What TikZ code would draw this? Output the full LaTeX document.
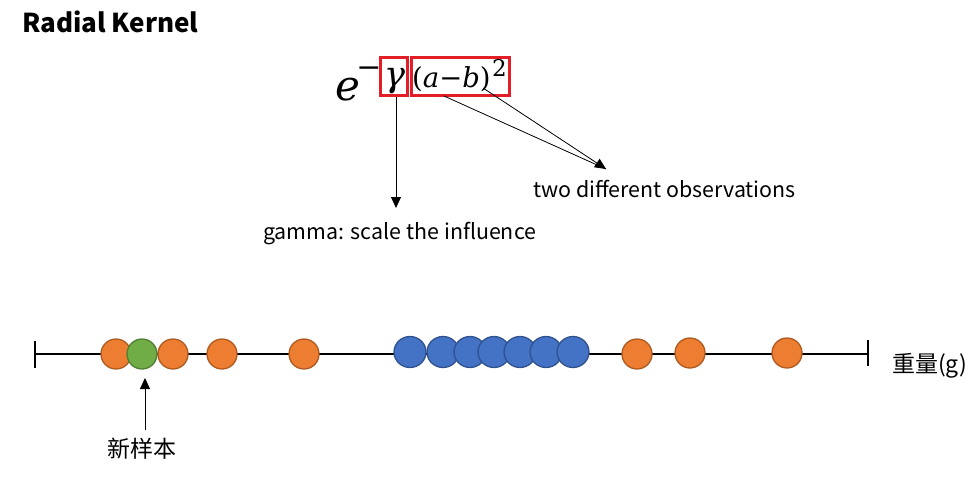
\documentclass[tikz,border=0pt]{standalone}
\usepackage{fontspec}
\setmainfont{Noto Sans CJK SC}
\newfontfamily\cjkfont{Noto Sans CJK SC}
\newfontfamily\formfont{DejaVu Serif}
\usetikzlibrary{arrows.meta,shapes.geometric}
\definecolor{orfill}{HTML}{ED7D31}
\definecolor{ordraw}{HTML}{AE5A21}
\definecolor{blfill}{HTML}{4472C4}
\definecolor{bldraw}{HTML}{2F528F}
\definecolor{grfill}{HTML}{70AD47}
\definecolor{grdraw}{HTML}{507E32}
\definecolor{boxred}{RGB}{228,30,38}
\begin{document}
\begin{tikzpicture}[x=1pt,y=-1pt,
  lbl/.style={inner sep=0pt,font=\fontsize{21.4}{25}\selectfont},
  cjk/.style={inner sep=0pt,font=\cjkfont\fontsize{23}{27}\selectfont},
  redbox/.style={draw=boxred,line width=2.9pt,inner sep=0pt,minimum height=38.5pt},
  orpt/.style={circle,fill=orfill,draw=ordraw,line width=1.3pt,minimum size=30pt,inner sep=0pt},
  blpt/.style={ellipse,fill=blfill,draw=bldraw,line width=1.3pt,minimum width=32pt,minimum height=31pt,inner sep=0pt},
  grpt/.style={circle,fill=grfill,draw=grdraw,line width=1.3pt,minimum size=30pt,inner sep=0pt},
  arr/.style={-{Triangle[length=11pt,width=10pt]},line width=0.8pt}]
\useasboundingbox (0,0) rectangle (980,477);
% title
\node[anchor=west,inner sep=0pt,font=\fontsize{26}{30}\selectfont\bfseries] (title) at (22,22) {Radial Kernel};
% formula
\node[inner sep=0pt,anchor=base,font=\formfont\itshape\fontsize{42}{46}\selectfont] (e) at (348,100) {e};
\node[inner sep=0pt,anchor=base,font=\formfont\fontsize{30}{34}\selectfont] (minus) at (369,77) {−};
\node[redbox,minimum width=27.5pt] (gbox) at (394,76.5) {};
\node[inner sep=0pt,anchor=base,font=\formfont\itshape\fontsize{35}{38}\selectfont] (gamma) at (395,86) {γ};
\node[redbox,minimum width=98.5pt] (abbox) at (460.5,76.5) {};
\node[inner sep=0pt,anchor=base west,font=\formfont\fontsize{27.5}{31}\selectfont] (ab) at (412,87) {(\textit{a}−\textit{b})};
\node[inner sep=0pt,anchor=north west,font=\formfont\fontsize{23}{26}\selectfont] (sq) at (492,59) {2};
\coordinate (gtip) at (396,208);
\coordinate (otip) at (606,169);
\coordinate (astart) at (444,96);
\coordinate (bstart) at (483,88);
\draw[arr] (gbox.south) ++(2,0) -- (gtip);
\draw[line width=0.8pt] (astart) -- (otip);
\draw[arr] (bstart) -- (otip);
\node[lbl,anchor=west] (obs) at (533,189) {two different observations};
\node[lbl,anchor=west] (gam) at (263,234) {gamma: scale the influence};
% axis
\coordinate (axl) at (35,354);
\coordinate (axr) at (868,354);
\draw[line width=1.5pt] (axl) -- (axr);
\draw[line width=1.5pt] (35,341) -- (35,368);
\draw[line width=1.5pt] (868,340) -- (868,366);
\node[orpt] (o1) at (116,354) {};
\node[grpt] (g1) at (142,354) {};
\node[orpt] (o2) at (173,354) {};
\node[orpt] (o3) at (222,354) {};
\node[orpt] (o4) at (304,354) {};
\node[blpt] (b1) at (410,352) {};
\node[blpt] (b2) at (443,352) {};
\node[blpt] (b3) at (470,352) {};
\node[blpt] (b4) at (494,352) {};
\node[blpt] (b5) at (520,352) {};
\node[blpt] (b6) at (546,352) {};
\node[blpt] (b7) at (573,352) {};
\node[orpt] (o5) at (637,354) {};
\node[orpt] (o6) at (690,353) {};
\node[orpt] (o7) at (787,353) {};
\node[cjk,anchor=west] (wt) at (892,366) {重量(g)};
\node[cjk] (new) at (142,449) {新样本};
\coordinate (newtip) at (145,378);
\draw[arr] (145,430) -- (newtip);
\end{tikzpicture}
\end{document}
